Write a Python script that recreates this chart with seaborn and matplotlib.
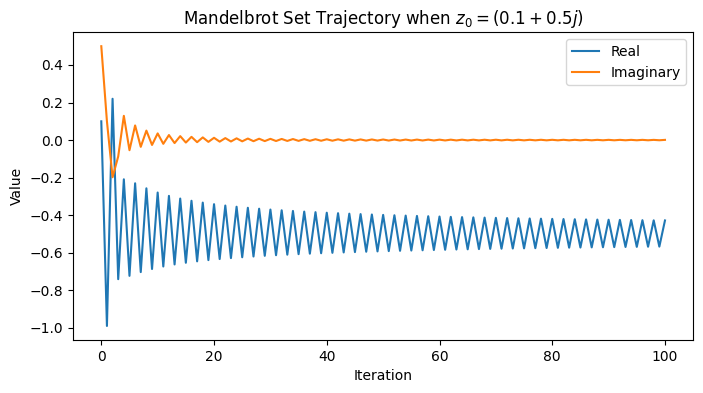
import matplotlib
matplotlib.use("Agg")
import matplotlib.pyplot as plt
import seaborn as sns
import pandas as pd

# values (iteration 0..100)
iterations = list(range(101))

real_part = [
    0.1000, -0.9900, 0.2201, -0.7408, -0.2089, -0.7231, -0.2301, -0.7031, -0.2569, -0.6866,
    -0.2793, -0.6733, -0.2971, -0.6624, -0.3114, -0.6535, -0.3232, -0.6459, -0.3330, -0.6393,
    -0.3414, -0.6336, -0.3486, -0.6286, -0.3549, -0.6241, -0.3605, -0.6201, -0.3655, -0.6164,
    -0.3700, -0.6132, -0.3739, -0.6103, -0.3775, -0.6076, -0.3809, -0.6050, -0.3839, -0.6027,
    -0.3868, -0.6005, -0.3894, -0.5984, -0.3919, -0.5965, -0.3942, -0.5946, -0.3964, -0.5929,
    -0.3985, -0.5913, -0.4004, -0.5897, -0.4022, -0.5883, -0.4040, -0.5869, -0.4056, -0.5855,
    -0.4072, -0.5842, -0.4087, -0.5830, -0.4101, -0.5819, -0.4114, -0.5807, -0.4127, -0.5797,
    -0.4140, -0.5786, -0.4152, -0.5776, -0.4163, -0.5767, -0.4174, -0.5758, -0.4185, -0.5749,
    -0.4195, -0.5740, -0.4205, -0.5732, -0.4214, -0.5724, -0.4224, -0.5716, -0.4233, -0.5709,
    -0.4241, -0.5702, -0.4249, -0.5694, -0.4257, -0.5688, -0.4265, -0.5681, -0.4273, -0.5675,
    -0.4280,
]

imag_part = [
    0.5000, 0.1000, -0.1980, -0.0872, 0.1291, -0.0539, 0.0780, -0.0359, 0.0505, -0.0259,
    0.0356, -0.0199, 0.0268, -0.0159, 0.0211, -0.0131, 0.0172, -0.0111, 0.0143, -0.0095,
    0.0122, -0.0083, 0.0106, -0.0074, 0.0093, -0.0066, 0.0082, -0.0059, 0.0073, -0.0054,
    0.0066, -0.0049, 0.0060, -0.0045, 0.0055, -0.0042, 0.0050, -0.0038, 0.0046, -0.0035,
    0.0043, -0.0033, 0.0040, -0.0031, 0.0037, -0.0029, 0.0035, -0.0028, 0.0033, -0.0026,
    0.0031, -0.0025, 0.0029, -0.0023, 0.0027, -0.0022, 0.0026, -0.0021, 0.0025, -0.0020,
    0.0023, -0.0019, 0.0022, -0.0018, 0.0021, -0.0017, 0.0020, -0.0016, 0.0019, -0.0016,
    0.0019, -0.0016, 0.0018, -0.0015, 0.0017, -0.0014, 0.0016, -0.0013, 0.0016, -0.0013,
    0.0015, -0.0013, 0.0015, -0.0013, 0.0014, -0.0012, 0.0014, -0.0012, 0.0013, -0.0011,
    0.0013, -0.0011, 0.0012, -0.0010, 0.0012, -0.0010, 0.0012, -0.0010, 0.0011, -0.0009,
    0.0011,
]

df = pd.DataFrame({"Iteration": iterations, "Real": real_part, "Imaginary": imag_part})

fig, ax = plt.subplots(figsize=(7.03, 3.93), dpi=100)
fig.subplots_adjust(left=0.104, right=0.986, bottom=0.135, top=0.918)

colors = sns.color_palette("tab10")
sns.lineplot(data=df, x="Iteration", y="Real", ax=ax, color=colors[0], label="Real")
sns.lineplot(data=df, x="Iteration", y="Imaginary", ax=ax, color=colors[1], label="Imaginary")

ax.set_title(r"Mandelbrot Set Trajectory when $z_0 = (0.1 + 0.5j)$")
ax.set_xlabel("Iteration")
ax.set_ylabel("Value")
ax.legend(loc="upper right")

fig.savefig("out.png", dpi=100)
